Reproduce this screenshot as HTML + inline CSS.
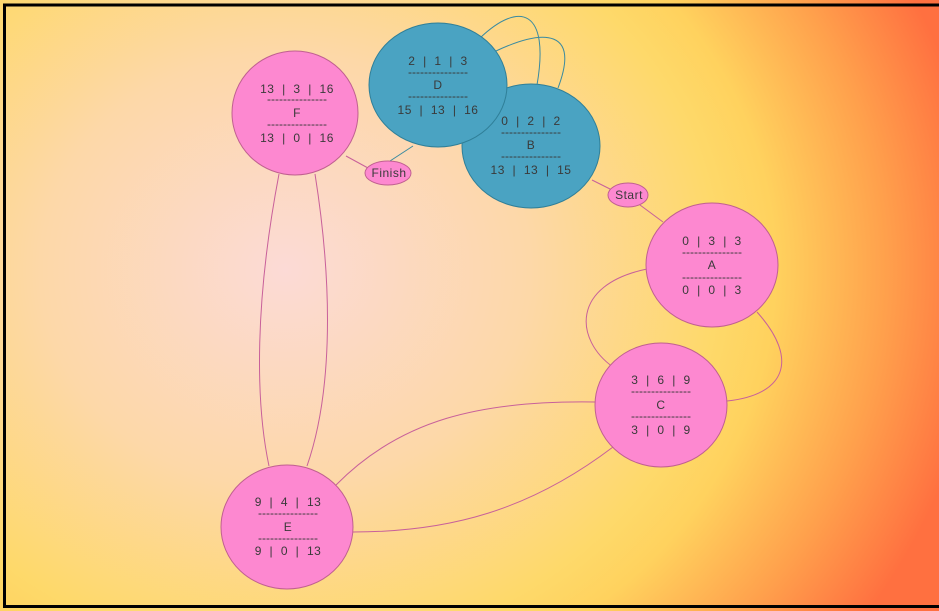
<!DOCTYPE html>
<html><head><meta charset="utf-8"><style>
html,body{margin:0;padding:0;width:939px;height:611px;overflow:hidden}
body{background:radial-gradient(ellipse 700px 620px at 285px 270px,#fcdad6 0%,#fdd8a8 35%,#fed96a 62%,#ffd25e 70%,#ffa04c 86%,#ff7040 100%)}
svg{position:absolute;left:0;top:0}
text{font-family:"Liberation Sans",sans-serif;font-size:12px;fill:#3a3a3a;text-anchor:middle;white-space:pre;letter-spacing:0.5px}
.d{letter-spacing:0}
</style></head><body>
<svg width="939" height="611" viewBox="0 0 939 611" xml:space="preserve">
<rect x="4.5" y="5" width="940" height="601.5" fill="none" stroke="#000" stroke-width="3"/>
<g fill="none" stroke-width="1">
<g stroke="#c8609a">
<path d="M346,156 L368,168"/>
<path d="M592,180 L612,190"/>
<path d="M640,205 L663,222"/>
<path d="M279,174 C255,300 255,400 269,466"/>
<path d="M315,174 C335,300 330,400 307,466"/>
<path d="M647,269 C570,285 575,340 613,367"/>
<path d="M757,312 C800,360 785,395 727,401"/>
<path d="M596,402 C480,400 400,420 336,485"/>
<path d="M613,447 C530,510 450,532 353,532"/>
</g>
<g stroke="#3a8aa0">
<path d="M390,161 L413,146"/>
<path d="M480,38 C520,0 550,10 537,85"/>
<path d="M496,51 C545,28 580,30 558,88"/>
</g>
</g>
<g stroke-width="1">
<ellipse cx="295" cy="113" rx="63" ry="62" fill="#fd88d0" stroke="#c06090"/>
<ellipse cx="531" cy="146" rx="69" ry="62" fill="#4aa3c2" stroke="#2f7f98"/>
<ellipse cx="438" cy="85" rx="69" ry="62" fill="#4aa3c2" stroke="#2f7f98"/>
<ellipse cx="712" cy="265" rx="66" ry="62" fill="#fd88d0" stroke="#c06090"/>
<ellipse cx="661" cy="405" rx="66" ry="62" fill="#fd88d0" stroke="#c06090"/>
<ellipse cx="287" cy="527" rx="66" ry="62" fill="#fd88d0" stroke="#c06090"/>
<ellipse cx="388" cy="173" rx="23" ry="12" fill="#fd88d0" stroke="#c06090"/>
<ellipse cx="628" cy="195" rx="20" ry="12" fill="#fd88d0" stroke="#c06090"/>
</g>
<text x="389" y="177">Finish</text>
<text x="629" y="199">Start</text>
<g>
<text x="297" y="93">13  |  3  |  16</text><text class="d" x="297" y="103">---------------</text><text x="297" y="117">F</text><text class="d" x="297" y="128">---------------</text><text x="297" y="142">13  |  0  |  16</text>
<text x="438" y="65">2  |  1  |  3</text><text class="d" x="438" y="76">---------------</text><text x="438" y="89">D</text><text class="d" x="438" y="100">---------------</text><text x="438" y="114">15  |  13  |  16</text>
<text x="531" y="125">0  |  2  |  2</text><text class="d" x="531" y="136">---------------</text><text x="531" y="149">B</text><text class="d" x="531" y="160">---------------</text><text x="531" y="174">13  |  13  |  15</text>
<text x="712" y="245">0  |  3  |  3</text><text class="d" x="712" y="256">---------------</text><text x="712" y="269">A</text><text class="d" x="712" y="281">---------------</text><text x="712" y="294">0  |  0  |  3</text>
<text x="661" y="384">3  |  6  |  9</text><text class="d" x="661" y="395">---------------</text><text x="661" y="409">C</text><text class="d" x="661" y="420">---------------</text><text x="661" y="434">3  |  0  |  9</text>
<text x="288" y="506">9  |  4  |  13</text><text class="d" x="288" y="517">---------------</text><text x="288" y="531">E</text><text class="d" x="288" y="542">---------------</text><text x="288" y="555">9  |  0  |  13</text>
</g>
</svg>
</body></html>
